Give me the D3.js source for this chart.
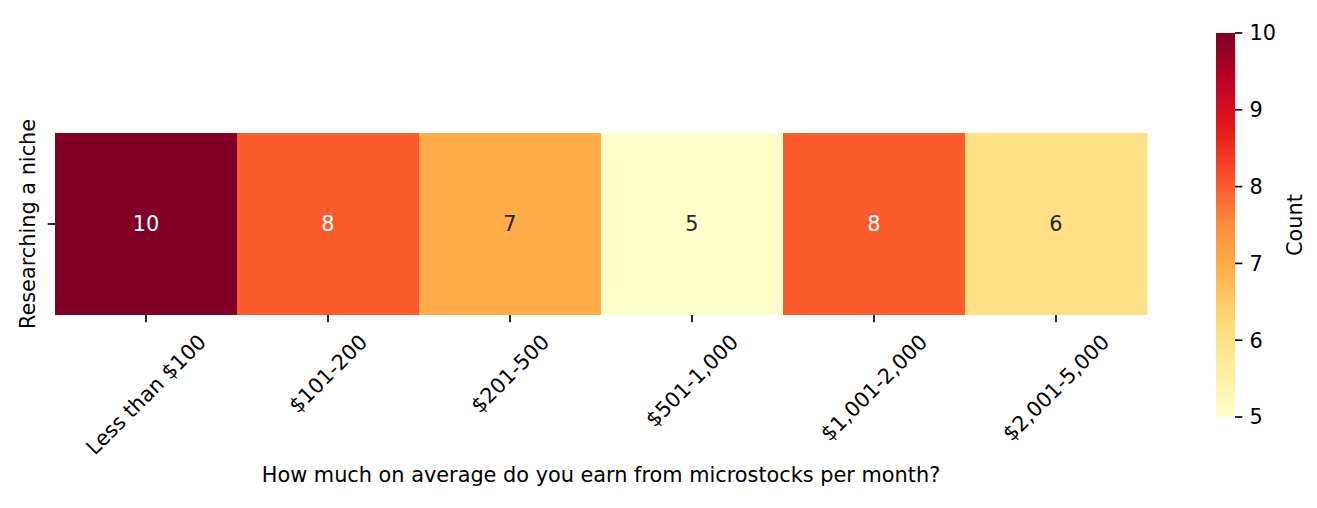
<!DOCTYPE html>
<html><head><meta charset="utf-8">
<script src="https://cdn.jsdelivr.net/npm/d3@7"></script>
<style>
html,body{margin:0;padding:0;background:#fff;}
text{font-family:"DejaVu Sans",sans-serif;}
</style></head>
<body><svg id="chart" width="1317" height="508"></svg>
<script>
const categories = ["Less than $100","$101-200","$201-500","$501-1,000","$1,001-2,000","$2,001-5,000"];
const rows = ["Researching a niche"];
const values = [10, 8, 7, 5, 8, 6];
const colorbarTicks = [5, 6, 7, 8, 9, 10];
const xTitle = "How much on average do you earn from microstocks per month?";
const cbarTitle = "Count";
const ylOrRd = ["#ffffcc","#ffeda0","#fed976","#feb24c","#fd8d3c","#fc4e2a","#e31a1c","#bd0026","#800026"];

const FS = 20.83;
const TL = 7.3, PAD = 7.3, LW = 1.67;
const svg = d3.select("#chart");
const vmin = 5, vmax = 10;
const color = d3.scaleLinear()
  .domain(ylOrRd.map((c,i)=> vmin + (vmax-vmin)*i/(ylOrRd.length-1)))
  .range(ylOrRd).interpolate(d3.interpolateRgb);

const x = d3.scaleBand().domain(categories).range([55,1147]);
const y = d3.scaleBand().domain(rows).range([133,315]);

const cells = categories.map((c,i)=>({cat:c,row:rows[0],v:values[i]}));
svg.selectAll("rect.cell").data(cells).enter().append("rect")
  .attr("class","cell")
  .attr("x",d=>x(d.cat)).attr("y",d=>y(d.row))
  .attr("width",x.bandwidth()+0.5).attr("height",y.bandwidth())
  .attr("fill",d=>color(d.v));

function lum(c){
  const r = d3.rgb(c);
  const f = v=>{v/=255;return v<=0.03928?v/12.92:Math.pow((v+0.055)/1.055,2.4);};
  return 0.2126*f(r.r)+0.7152*f(r.g)+0.0722*f(r.b);
}
svg.selectAll("text.annot").data(cells).enter().append("text")
  .attr("class","annot")
  .attr("x",d=>x(d.cat)+x.bandwidth()/2)
  .attr("y",d=>y(d.row)+y.bandwidth()/2+0.36*FS)
  .attr("text-anchor","middle")
  .attr("font-size",FS)
  .attr("fill",d=>lum(color(d.v))>0.408?"#262626":"#ffffff")
  .text(d=>d.v);

// x ticks
const xb = y.range()[1];
svg.selectAll("line.xt").data(categories).enter().append("line")
  .attr("x1",d=>x(d)+x.bandwidth()/2).attr("x2",d=>x(d)+x.bandwidth()/2)
  .attr("y1",xb).attr("y2",xb+TL)
  .attr("stroke","#000").attr("stroke-width",LW);
const lblTop = xb+TL+PAD;
categories.forEach(c=>{
  const g = svg.append("g");
  const t = g.append("text").attr("font-size",FS).attr("text-anchor","middle")
    .attr("fill","#000").text(c);
  const L = t.node().getComputedTextLength();
  const h = 1.164*FS;
  const half = (L*Math.SQRT1_2 + h*Math.SQRT1_2)/2;
  t.attr("y", (0.928-0.582)*FS);
  g.attr("transform",`translate(${x(c)+x.bandwidth()/2},${lblTop+half}) rotate(-45)`);
});

// y tick
rows.forEach(r=>{
  const cy = y(r)+y.bandwidth()/2;
  svg.append("line").attr("x1",55-TL).attr("x2",55).attr("y1",cy).attr("y2",cy)
    .attr("stroke","#000").attr("stroke-width",LW);
  svg.append("text").attr("font-size",FS).attr("text-anchor","middle")
    .attr("transform",`translate(${55-TL-PAD-0.236*FS},${cy}) rotate(-90)`)
    .attr("fill","#000").text(r);
});

// x title
svg.append("text").attr("x",(55+1147)/2).attr("y",482).attr("text-anchor","middle")
  .attr("font-size",FS).attr("fill","#000").text(xTitle);

// colorbar
const cb = d3.scaleLinear().domain([vmin,vmax]).range([417,33]);
const defs = svg.append("defs");
const grad = defs.append("linearGradient").attr("id","cbg")
  .attr("x1",0).attr("y1",1).attr("x2",0).attr("y2",0);
ylOrRd.forEach((c,i)=>grad.append("stop").attr("offset",i/(ylOrRd.length-1)).attr("stop-color",c));
svg.append("rect").attr("x",1216).attr("y",cb(vmax)).attr("width",19)
  .attr("height",cb(vmin)-cb(vmax)).attr("fill","url(#cbg)");
svg.selectAll("line.ct").data(colorbarTicks).enter().append("line")
  .attr("x1",1235).attr("x2",1235+TL).attr("y1",d=>cb(d)).attr("y2",d=>cb(d))
  .attr("stroke","#000").attr("stroke-width",LW);
svg.selectAll("text.ctl").data(colorbarTicks).enter().append("text")
  .attr("x",1235+TL+PAD).attr("y",d=>cb(d)+0.36*FS).attr("font-size",FS).attr("fill","#000")
  .text(d=>d);
svg.append("text").attr("font-size",FS).attr("text-anchor","middle").attr("fill","#000")
  .attr("transform",`translate(1302,${(cb(vmin)+cb(vmax))/2}) rotate(-90)`)
  .text(cbarTitle);
</script></body></html>
